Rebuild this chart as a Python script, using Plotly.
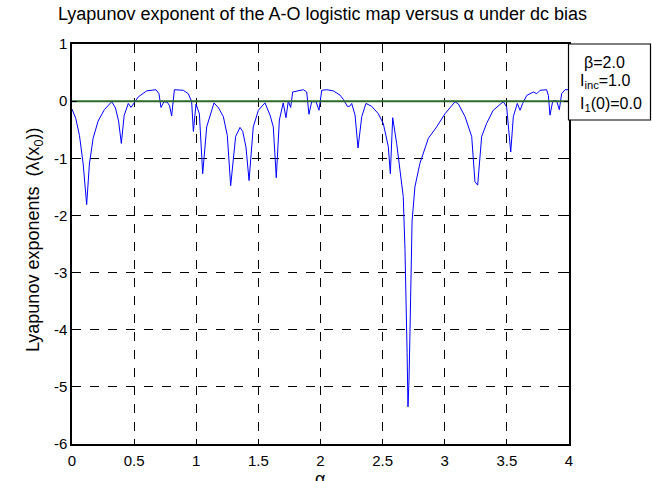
import plotly.graph_objects as go

alpha = [0.0, 0.03, 0.06, 0.09, 0.118, 0.14, 0.17, 0.21, 0.26, 0.32, 0.35, 0.375, 0.397, 0.42, 0.453, 0.475,
         0.534, 0.601, 0.676, 0.70, 0.716, 0.74, 0.767, 0.785, 0.802, 0.824, 0.896, 0.936, 0.963, 0.977,
         0.998, 1.025, 1.052, 1.084, 1.143, 1.18, 1.218, 1.25, 1.277, 1.317, 1.352, 1.374, 1.40, 1.425,
         1.459, 1.50, 1.553, 1.594, 1.62, 1.644, 1.669, 1.70, 1.722, 1.741, 1.76, 1.776, 1.862, 1.889,
         1.907, 1.929, 1.964, 1.988, 2.01, 2.05, 2.103, 2.157, 2.184, 2.216, 2.235, 2.251, 2.278, 2.302,
         2.332, 2.366, 2.412, 2.465, 2.505, 2.546, 2.562, 2.581, 2.613, 2.64, 2.666, 2.68, 2.69, 2.697,
         2.704, 2.712, 2.72, 2.728, 2.737, 2.76, 2.80, 2.868, 2.935, 3.002, 3.083, 3.11, 3.163, 3.217,
         3.243, 3.265, 3.297, 3.337, 3.39, 3.471, 3.498, 3.531, 3.552, 3.584, 3.606, 3.627, 3.66, 3.713,
         3.74, 3.767, 3.82, 3.834, 3.847, 3.869, 3.9, 3.922, 3.941, 3.968, 4.0]
lyap = [-0.14, -0.3, -0.6, -1.1, -1.81, -1.1, -0.65, -0.35, -0.15, -0.01, -0.12, -0.35, -0.74, -0.25, -0.04, -0.11,
        0.075, 0.18, 0.2, 0.13, -0.11, -0.01, -0.02, -0.08, -0.26, 0.2, 0.19, 0.13, -0.01, -0.53,
        -0.05, -0.22, -1.27, -0.45, -0.03, -0.12, -0.27, -0.6, -1.48, -0.62, -0.46, -0.53, -0.8, -1.39,
        -0.45, -0.16, -0.03, -0.245, -0.45, -1.34, -0.33, -0.03, -0.29, 0.0, -0.11, 0.16, 0.2, 0.16,
        -0.23, -0.01, -0.01, -0.16, 0.19, 0.2, 0.18, 0.105, 0.03, -0.09, -0.09, -0.04, -0.245, -0.82,
        -0.27, -0.04, -0.09, -0.22, -0.39, -0.8, -1.27, -0.29, -0.74, -1.21, -1.67, -2.6, -3.5, -4.4,
        -5.35, -4.9, -4.06, -2.9, -2.1, -1.5, -1.09, -0.65, -0.45, -0.22, -0.01, -0.05, -0.27, -0.62,
        -1.41, -1.47, -0.62, -0.39, -0.16, -0.01, -0.1, -0.89, -0.27, -0.04, -0.16, -0.04, 0.1, 0.16,
        0.13, 0.19, 0.2, 0.1, -0.245, 0.0, 0.01, -0.15, 0.13, 0.2, 0.2]

zero_x = [0, 4]
zero_y = [0, 0]

x_ticks = [0, 0.5, 1, 1.5, 2, 2.5, 3, 3.5, 4]
y_ticks = [-6, -5, -4, -3, -2, -1, 0, 1]

FONT = "Liberation Sans, Arial, Helvetica, sans-serif"

# plot area in pixels: x 72..569, y 44..444
PL, PR, PT, PB = 72, 569, 44, 444
PW, PH = PR - PL, PB - PT


def px(x):
    return (x - PL) / PW


def py(y):
    return (PB - y) / PH


fig = go.Figure()
fig.add_trace(go.Scatter(x=alpha, y=lyap, mode="lines",
                         line=dict(color="#0000ff", width=1), showlegend=False))
fig.add_trace(go.Scatter(x=zero_x, y=zero_y, mode="lines",
                         line=dict(color="#2a6a2a", width=2), showlegend=False))

axis_common = dict(showline=True, linecolor="black", linewidth=1.5, mirror="ticks",
                   ticks="inside", ticklen=5, tickcolor="black",
                   showgrid=True, gridcolor="black", griddash="dash", gridwidth=1,
                   zeroline=False, tickfont=dict(family=FONT, size=15, color="black"))

fig.update_xaxes(range=[0, 4], tickvals=x_ticks, ticklabelstandoff=2,
                 ticktext=[("%g" % v) for v in x_ticks], **axis_common)
fig.update_yaxes(range=[-6, 1], tickvals=y_ticks, ticklabelstandoff=0,
                 ticktext=[("%g" % v) for v in y_ticks], **axis_common)

fig.update_layout(
    width=652, height=481,
    margin=dict(l=PL, r=652 - PR, t=PT, b=481 - PB),
    paper_bgcolor="white", plot_bgcolor="white",
    font=dict(family=FONT, color="black"),
    shapes=[dict(type="rect", xref="paper", yref="paper",
                 x0=px(568.5), x1=px(650.5), y0=py(120), y1=py(44),
                 line=dict(color="black", width=1.2), fillcolor="white")],
    annotations=[
        dict(text="Lyapunov exponent of the A-O logistic map versus α under dc bias",
             xref="paper", yref="paper", x=px(322), y=py(14),
             xanchor="center", yanchor="middle", showarrow=False,
             font=dict(family=FONT, size=18)),
        dict(text="α", xref="paper", yref="paper", x=px(320), y=py(479),
             xanchor="center", yanchor="middle", showarrow=False, borderpad=0,
             font=dict(family=FONT, size=18)),
        dict(text="Lyapunov exponents  (λ(x<sub>0</sub>))", xref="paper", yref="paper",
             x=px(34), y=py(240), textangle=-90,
             xanchor="center", yanchor="middle", showarrow=False,
             font=dict(family=FONT, size=18)),
        dict(text="β=2.0", xref="paper", yref="paper", x=px(582), y=py(63),
             xanchor="left", yanchor="middle", showarrow=False,
             font=dict(family=FONT, size=16)),
        dict(text="I<sub>inc</sub>=1.0", xref="paper", yref="paper", x=px(578), y=py(81),
             xanchor="left", yanchor="middle", showarrow=False,
             font=dict(family=FONT, size=16)),
        dict(text="I<sub>1</sub>(0)=0.0", xref="paper", yref="paper", x=px(578), y=py(104),
             xanchor="left", yanchor="middle", showarrow=False,
             font=dict(family=FONT, size=16)),
    ],
)

fig.write_html("out.html")
